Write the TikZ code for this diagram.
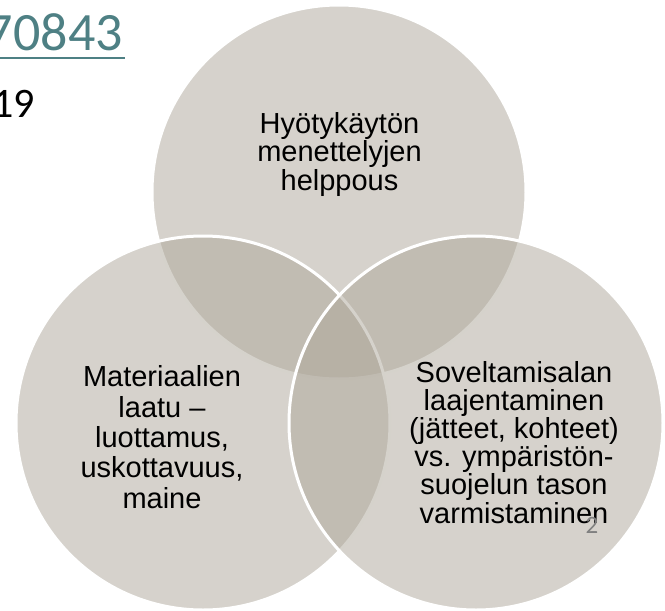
\documentclass[tikz,border=0pt]{standalone}
\usepackage{fontspec}
\setmainfont{Liberation Sans}
\newfontfamily\slidefont{Carlito}
\definecolor{venngray}{RGB}{173,166,153}
\definecolor{linkteal}{RGB}{78,128,132}
\definecolor{numgray}{RGB}{128,128,128}

\begin{document}
\begin{tikzpicture}[x=1pt, y=-1pt,
    venn/.style={fill=venngray, fill opacity=0.5, draw=white, line width=3pt},
    vennlabel/.style={align=center, anchor=base, inner sep=0pt, font=\fontsize{29}{28.5}\selectfont}]

    \useasboundingbox (0,0) rectangle (665,611);

    % Header text, cut off at the left edge
    \node[anchor=base east, inner sep=0pt, text=linkteal, font=\slidefont\fontsize{54}{60}\selectfont] (link) at (123,50) {70843};
    \draw[linkteal, line width=2.5pt] ([yshift=-8pt]link.base west) -- ([yshift=-8pt, xshift=2pt]link.base east);
    \node[anchor=base east, inner sep=0pt, font=\slidefont\fontsize{42}{48}\selectfont] (year) at (35,117) {19};

    % Venn circles: top, left, right
    \draw[venn] (339,192) circle[radius=187];
    \draw[venn] (203,423) circle[radius=187];
    \draw[venn] (476,423) circle[radius=187];

    % Circle texts (base = last line)
    \node[vennlabel] (reuse) at (339.5,190) {Hyötykäytön\\menettelyjen\\helppous};
    \node[vennlabel, font=\fontsize{29}{30.3}\selectfont] (quality) at (162,508) {Materiaalien\\laatu –\\luottamus,\\uskottavuus,\\maine};
    \node[vennlabel, font=\fontsize{29}{28.2}\selectfont] (scope) at (514,523) {Soveltamisalan\\laajentaminen\\(jätteet, kohteet)\\vs. ympäristön-\\suojelun tason\\varmistaminen};

    % Slide number
    \node[anchor=base, inner sep=0pt, text=numgray, font=\slidefont\fontsize{25}{28}\selectfont] (slidenum) at (592,533) {2};

\end{tikzpicture}
\end{document}
